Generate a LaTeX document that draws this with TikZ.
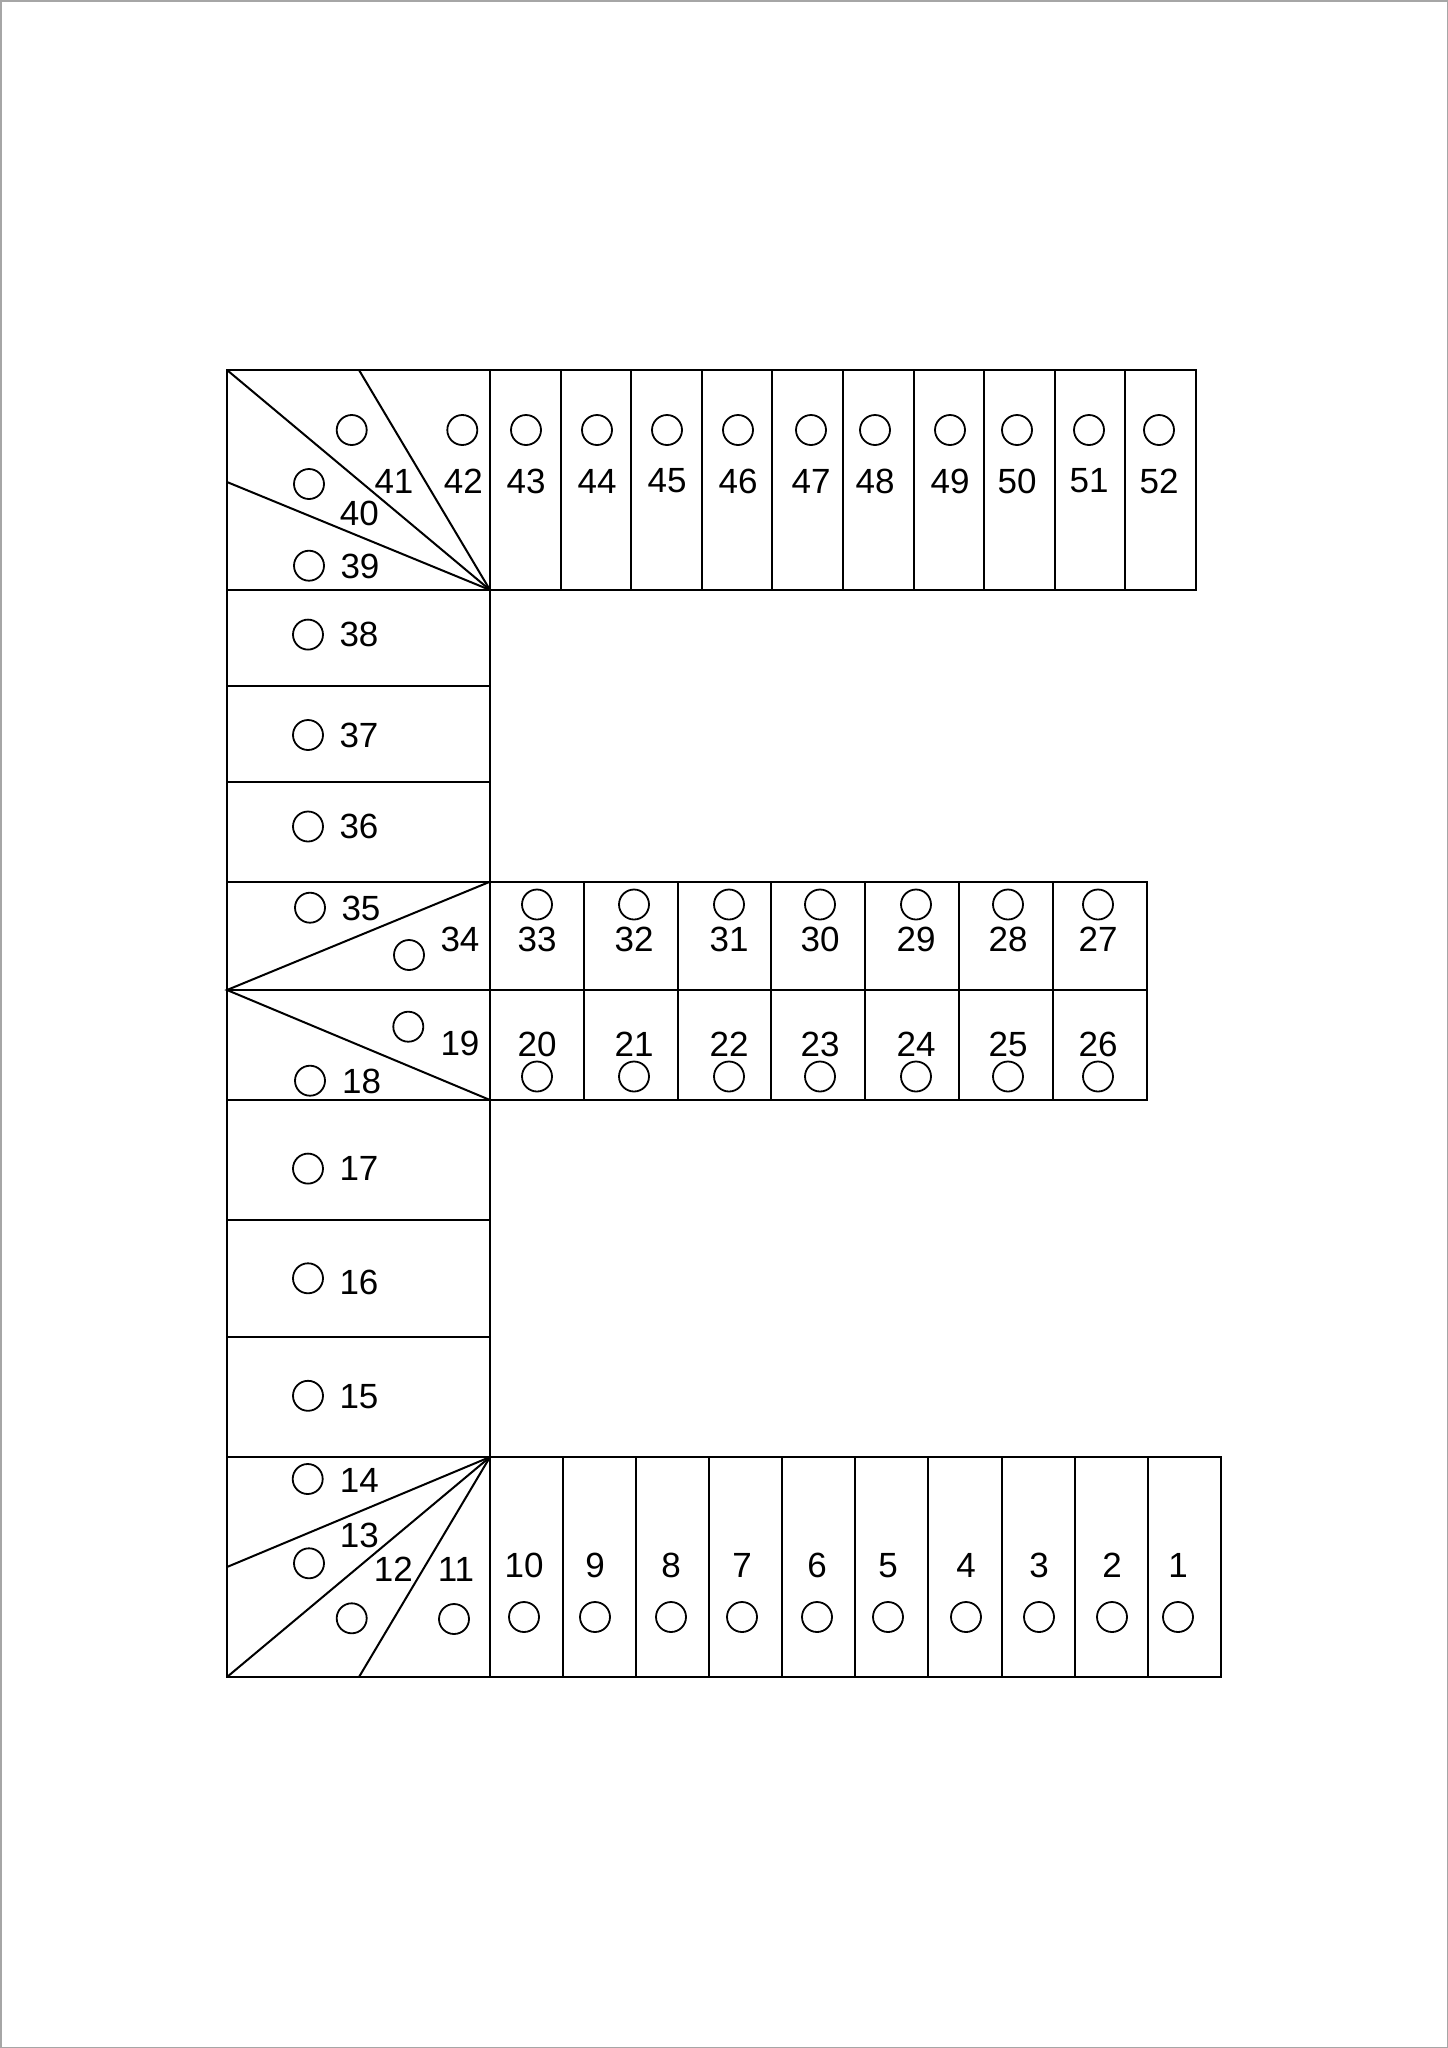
\documentclass[tikz,border=0pt]{standalone}
\usepackage{fontspec}
\setmainfont{Liberation Sans}
\begin{document}
\begin{tikzpicture}[x=1pt,y=-1pt,
  edge/.style={line width=2pt,line join=miter},
  hole/.style={circle,draw,line width=1.8pt,minimum size=30pt,inner sep=0pt},
  num/.style={inner sep=0pt,font=\fontsize{35}{40}\selectfont}]
\useasboundingbox (0,0) rectangle (1448,2048);
\draw[gray!70,line width=1.5pt] (0.75,0.75) rectangle (1447.25,2047.25);
% ---- top block
\draw[edge] (227,370) rectangle (1196,590);
\foreach \k in {0,...,9} \draw[edge] ({490+70.6*\k},370) -- ({490+70.6*\k},590);
\draw[edge] (227,370) -- (490,590);
\draw[edge] (359,370) -- (490,590);
\draw[edge] (227,482) -- (490,590);
% ---- left column
\draw[edge] (227,590) rectangle (490,1457);
\foreach \y in {685.5,782,881.7,990,1100,1219.5,1337} \draw[edge] (227,\y) -- (490,\y);
% ---- middle block
\draw[edge] (490,881.7) rectangle (1146.7,1100);
\draw[edge] (490,990) -- (1146.7,990);
\foreach \k in {1,...,6} \draw[edge] ({490+93.8*\k},881.7) -- ({490+93.8*\k},1100);
\draw[edge] (490,881.7) -- (227,990) -- (490,1100);
% ---- bottom block
\draw[edge] (227,1457) rectangle (1220.7,1677);
\foreach \k in {0,...,9} \draw[edge] ({490+73.07*\k},1457) -- ({490+73.07*\k},1677);
\draw[edge] (490,1457) -- (227,1567);
\draw[edge] (490,1457) -- (227,1677);
\draw[edge] (490,1457) -- (359,1677);
% ---- top row 43..52
\foreach \n/\x in {43/526,44/597,45/667,46/738,47/811,48/875,49/950,50/1017,51/1089,52/1159}{
  \node[hole] (c\n) at (\x,430) {};
  \node[num] (t\n) at (\x,481) {\n};
}
\node[hole] (c41) at (351.7,430) {};
\node[num] (t41) at (394,481) {41};
\node[hole] (c42) at (462.3,430) {};
\node[num] (t42) at (463.3,481) {42};
\node[hole] (c40) at (309,484) {};
\node[num] (t40) at (359.3,513.3) {40};
\node[hole] (c39) at (309,565.7) {};
\node[num] (t39) at (360,566.7) {39};
% ---- left column rows
\node[hole] (c38) at (308,634.6) {};
\node[num] (t38) at (359,634.6) {38};
\node[hole] (c37) at (308,735) {};
\node[num] (t37) at (359,735) {37};
\node[hole] (c36) at (308,826.5) {};
\node[num] (t36) at (359,826.5) {36};
\node[hole] (c35) at (310,907.7) {};
\node[num] (t35) at (361,908.3) {35};
\node[hole] (c34) at (409,955) {};
\node[num] (t34) at (460,939) {34};
\node[hole] (c19) at (408.3,1026.7) {};
\node[num] (t19) at (460,1043.3) {19};
\node[hole] (c18) at (310,1080.7) {};
\node[num] (t18) at (361.7,1081.7) {18};
\node[hole] (c17) at (308,1168.6) {};
\node[num] (t17) at (359,1168.6) {17};
\node[hole] (c16) at (308,1278.3) {};
\node[num] (t16) at (359,1282.2) {16};
\node[hole] (c15) at (308,1395.8) {};
\node[num] (t15) at (359,1397) {15};
\node[hole] (c14) at (307.7,1479) {};
\node[num] (t14) at (359.3,1480) {14};
\node[hole] (c13) at (309,1563.3) {};
\node[num] (t13) at (359.3,1535) {13};
\node[hole] (c12) at (351.7,1618.3) {};
\node[num] (t12) at (393.3,1569.3) {12};
\node[hole] (c11) at (454,1619) {};
\node[num] (t11) at (456,1569.3) {11};
% ---- middle block
\foreach \n/\m/\x in {33/20/537,32/21/634,31/22/729,30/23/820,29/24/916,28/25/1008,27/26/1098}{
  \node[hole] (c\n) at (\x,904.5) {};
  \node[num] (t\n) at (\x,939) {\n};
  \node[num] (t\m) at (\x,1044) {\m};
  \node[hole] (c\m) at (\x,1076.5) {};
}
% ---- bottom row 10..1
\foreach \n/\x in {10/524,9/595,8/671,7/742,6/817,5/888,4/966,3/1039,2/1112,1/1178}{
  \node[num] (t\n) at (\x,1565.5) {\n};
  \node[hole] (c\n) at (\x,1617) {};
}
\end{tikzpicture}
\end{document}
